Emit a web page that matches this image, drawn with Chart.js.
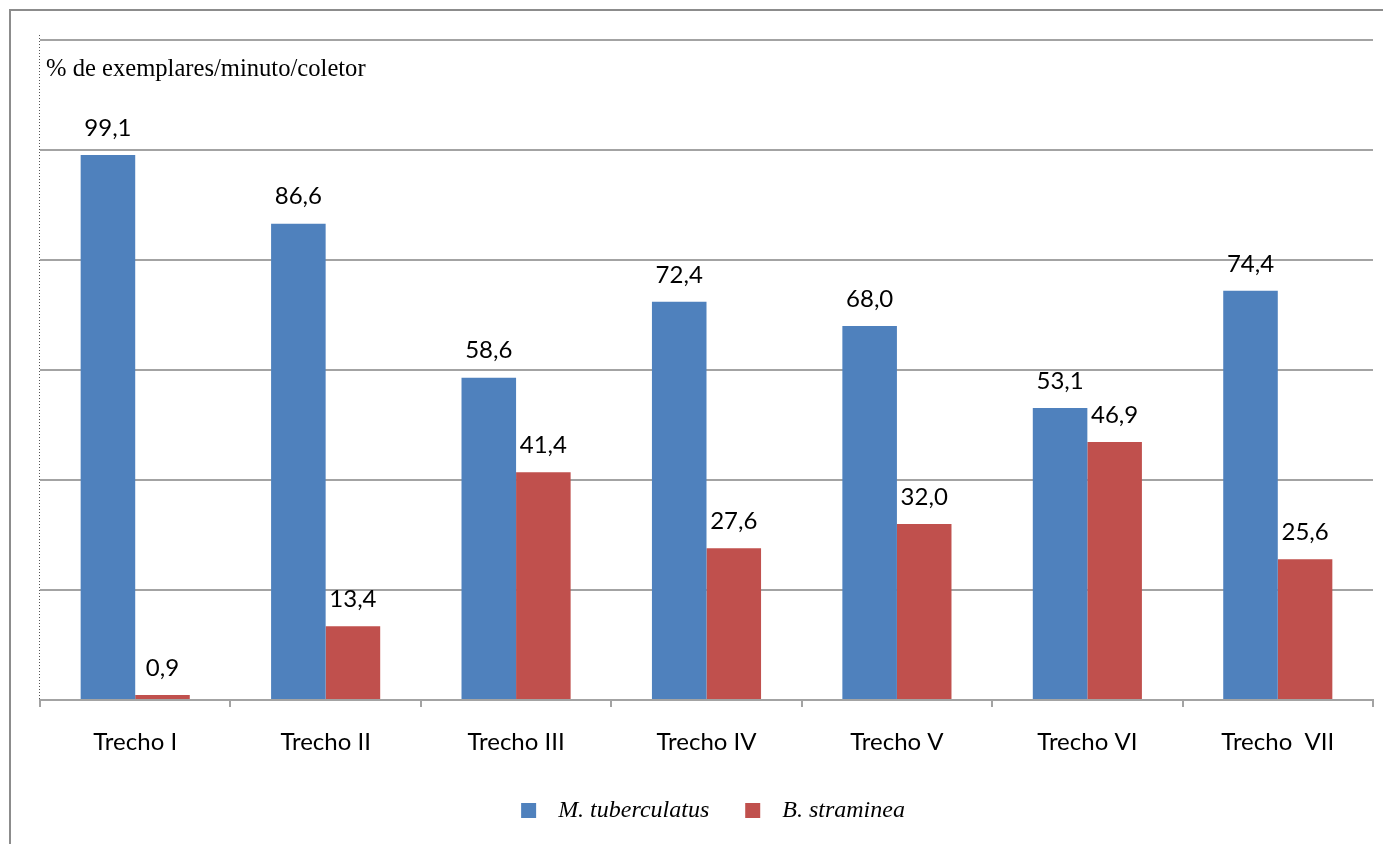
<!DOCTYPE html>
<html>
<head>
<meta charset="utf-8">
<script src="https://cdn.jsdelivr.net/npm/chart.js@4.4.1/dist/chart.umd.min.js"></script>
<style>
  html, body { margin: 0; padding: 0; background: #fff; }
  #wrap { width: 1383px; height: 844px; position: relative; }
</style>
</head>
<body>
<div id="wrap"><canvas id="c" width="1383" height="844"></canvas></div>
<script>
// Sampling stretches along the stream
const categories = ['Trecho I', 'Trecho II', 'Trecho III', 'Trecho IV', 'Trecho V', 'Trecho VI', 'Trecho  VII'];
// Share of specimens per minute per collector (%)
const tuberculatus = [99.1, 86.6, 58.6, 72.4, 68.0, 53.1, 74.4];
const straminea = [0.9, 13.4, 41.4, 27.6, 32.0, 46.9, 25.6];
const seriesNames = ['M. tuberculatus', 'B. straminea'];
const yTicks = [0, 20, 40, 60, 80, 100, 120];
const yTitle = '% de exemplares/minuto/coletor';

const BLUE = '#4f81bd';
const RED = '#c0504d';
const GRID = '#a3a3a3';
const LABEL_FONT = 'Lato, "Open Sans", sans-serif';
const SERIF = '"Liberation Serif", "Times New Roman", serif';

const fmt = v => v.toFixed(1).replace('.', ',');

// Outer frame, dotted value axis, axis caption, value labels and legend
const decorations = {
  id: 'decorations',
  beforeDraw(chart) {
    const ctx = chart.ctx;
    ctx.save();
    ctx.fillStyle = '#fff';
    ctx.fillRect(0, 0, chart.width, chart.height);
    ctx.strokeStyle = '#8c8c8c';
    ctx.lineWidth = 2;
    ctx.beginPath();
    ctx.moveTo(10, chart.height);
    ctx.lineTo(10, 10);
    ctx.lineTo(chart.width, 10);
    ctx.stroke();
    ctx.restore();
  },
  afterDatasetsDraw(chart) {
    const ctx = chart.ctx;
    ctx.save();
    ctx.fillStyle = '#000';
    ctx.font = '24px ' + LABEL_FONT;
    ctx.textAlign = 'center';
    ctx.textBaseline = 'middle';
    chart.data.datasets.forEach((ds, i) => {
      chart.getDatasetMeta(i).data.forEach((bar, j) => {
        ctx.fillText(fmt(ds.data[j]), bar.x, bar.y - 27);
      });
    });
    ctx.restore();
  },
  afterDraw(chart) {
    const ctx = chart.ctx;
    const area = chart.chartArea;
    const y = chart.scales.y;
    ctx.save();
    // dotted value axis
    ctx.strokeStyle = '#555';
    ctx.lineWidth = 1;
    ctx.setLineDash([1, 2]);
    ctx.beginPath();
    ctx.moveTo(area.left - 0.5, y.getPixelForValue(y.max) - 5);
    ctx.lineTo(area.left - 0.5, y.getPixelForValue(y.min));
    ctx.stroke();
    ctx.setLineDash([]);

    // caption of the value axis
    ctx.fillStyle = '#000';
    ctx.font = '24.6px ' + SERIF;
    ctx.textAlign = 'left';
    ctx.textBaseline = 'alphabetic';
    ctx.fillText(yTitle, area.left + 6, 76);

    // legend
    ctx.font = 'italic 24px ' + SERIF;
    const box = 15, gap = 22, between = 36;
    const widths = chart.data.datasets.map(ds => ctx.measureText(ds.label).width);
    const total = widths.reduce((a, w) => a + box + gap + w, 0) + between * (widths.length - 1);
    let x = 713 - total / 2;
    const cy = 811;
    ctx.textBaseline = 'middle';
    chart.data.datasets.forEach((ds, i) => {
      ctx.fillStyle = ds.backgroundColor;
      ctx.fillRect(x, cy - 8, box, box);
      x += box + gap;
      ctx.fillStyle = '#000';
      ctx.fillText(ds.label, x, cy);
      x += widths[i] + between;
    });
    ctx.restore();
  }
};

new Chart(document.getElementById('c'), {
  type: 'bar',
  data: {
    labels: categories,
    datasets: [
      { label: seriesNames[0], data: tuberculatus, backgroundColor: BLUE },
      { label: seriesNames[1], data: straminea, backgroundColor: RED }
    ]
  },
  options: {
    responsive: false,
    animation: false,
    layout: { padding: { left: 40, right: 10, top: 40, bottom: 87 } },
    datasets: { bar: { categoryPercentage: 0.573, barPercentage: 1.0 } },
    plugins: {
      legend: { display: false },
      tooltip: { enabled: false }
    },
    scales: {
      x: {
        afterFit(scale) { scale.height = 57; },
        grid: {
          offset: true,
          drawOnChartArea: false,
          drawTicks: true,
          tickLength: 7,
          color: GRID,
          lineWidth: 2
        },
        border: { display: true, color: GRID, width: 2, dash: [] },
        ticks: {
          color: '#000',
          font: { family: LABEL_FONT, size: 24 },
          padding: 21,
          maxRotation: 0,
          autoSkip: false
        }
      },
      y: {
        min: 0,
        max: 120,
        afterFit(scale) { scale.width = 0; },
        afterBuildTicks(scale) { scale.ticks = yTicks.map(v => ({ value: v })); },
        grid: { color: GRID, lineWidth: 2, drawTicks: false },
        border: { display: false, dash: [] },
        ticks: { display: false }
      }
    }
  },
  plugins: [decorations]
});
</script>
</body>
</html>
